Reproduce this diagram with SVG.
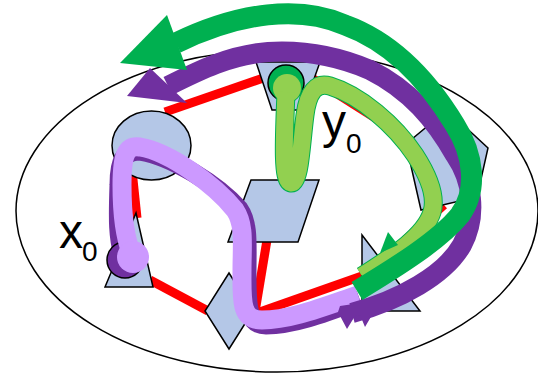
<svg xmlns="http://www.w3.org/2000/svg" width="538" height="376" viewBox="0 0 538 376">
<style>
.node{fill:#B4C7E7;stroke:#000;stroke-width:1.5;stroke-linejoin:miter}
.edge{stroke:#FF0000;stroke-width:9;fill:none;stroke-linecap:butt}
.lbl{font-family:"Liberation Sans",Arial,sans-serif;fill:#000}
.band{fill:none;stroke-linecap:butt;stroke-linejoin:round}
</style>
<rect width="538" height="376" fill="#fff"/>
<ellipse id="space" cx="277" cy="211" rx="261" ry="161" fill="none" stroke="#000" stroke-width="1.5"/>
<g id="connectors">
<line class="edge" x1="165" y1="112" x2="269" y2="76"/>
<line class="edge" x1="312" y1="78" x2="413" y2="142"/>
<line class="edge" x1="170" y1="150" x2="244" y2="212"/>
<line class="edge" x1="132" y1="170" x2="137" y2="218"/>
<line class="edge" x1="150" y1="280" x2="208" y2="311"/>
<line class="edge" x1="267" y1="240" x2="255" y2="312"/>
<line class="edge" x1="254" y1="314" x2="362" y2="276"/>
<line class="edge" x1="444" y1="205" x2="405" y2="240"/>
</g>
<g id="n-circle"><ellipse class="node" cx="151.5" cy="145.5" rx="39.5" ry="34.5"/></g>
<g id="n-trapezoid"><polygon class="node" points="256,62 320,62 303,110 272,110"/></g>
<g id="n-parallelogram"><polygon class="node" points="251,180 319,180 298,242 228,242"/></g>
<g id="n-pentagon"><polygon class="node" points="447,110 488,148 477,197 421,210 406,144"/></g>
<g id="n-diamond"><polygon class="node" points="229,273 253,311 229,349 205,311"/></g>
<g id="n-triangle-left"><polygon class="node" points="136,213 153,287 105,287"/></g>
<g id="n-triangle-right"><polygon class="node" points="362,235 420,311 362,311"/></g>
<g id="path-x0">
<path class="band" stroke="#7030A0" stroke-width="19" d="M125,260 C117,240 118,215 119,185 C119,160 124,151 140,151 C172,156 218,185 239,209 C249,223 247,245 247,270 C247,302 246,325 266,325 C294,325 325,313 360,300"/>
<circle cx="125" cy="260" r="18" fill="#7030A0" stroke="#000" stroke-width="1.5"/>
<path class="band" stroke="#CC99FF" stroke-width="19" d="M133,257 C125,240 122,215 122,185 C122,155 126,145 140,147 C170,152 215,185 235,210 C245,225 242,245 242,270 C242,300 240,320 262,320 C290,320 320,308 358,295"/>
<circle cx="133" cy="257" r="16" fill="#CC99FF"/>
</g>
<g id="path-y0">
<circle cx="286" cy="83" r="18" fill="#00B050" stroke="#000" stroke-width="1.5"/>
<path class="band" stroke="#00B050" stroke-width="19" stroke-linecap="round" d="M286,92 C284,140 282,182 291,183 C300,184 301,145 305,115 C308,92 316,82 330,86 C360,95 395,125 415,155 C428,175 437,195 432,212 C425,235 395,255 362,276"/>
<circle cx="287" cy="88" r="15" fill="#00B050"/>
<circle cx="287" cy="88" r="14" fill="#92D050"/>
<path class="band" stroke="#92D050" stroke-width="17" stroke-linecap="round" d="M286,92 C284,140 282,182 291,183 C300,184 301,145 305,115 C308,92 316,82 330,86 C360,95 395,125 415,155 C428,175 437,195 432,212 C425,235 395,255 362,276"/>
<polygon points="380,253 388,232 398,245" fill="#00B050"/>
</g>
<g id="arrow-purple">
<path class="band" stroke="#7030A0" stroke-width="20" d="M352,313 C400,300 445,275 462,245 C478,215 472,180 455,155 C435,120 410,90 370,70 C335,55 300,50 268,52 C230,55 200,70 168,86"/>
<polygon points="127,96 150,68 187,103" fill="#7030A0"/>
<polygon points="338,312 347,329 355,316 360,315 365,327 372,315 360,303 340,306" fill="#7030A0"/>
</g>
<g id="arrow-green">
<path class="band" stroke="#00B050" stroke-width="21" d="M357,291 C395,268 440,240 460,215 C478,190 474,155 455,125 C435,92 400,45 345,25 C300,5 240,12 176,43"/>
<polygon points="120,63 167,15 187,70" fill="#00B050"/>
</g>
<g id="labels">
<text class="lbl" x="59" y="248" font-size="48">x</text>
<text class="lbl" x="82" y="261" font-size="28">0</text>
<text class="lbl" x="322" y="138" font-size="48">y</text>
<text class="lbl" x="346" y="153" font-size="28">0</text>
</g>
</svg>
